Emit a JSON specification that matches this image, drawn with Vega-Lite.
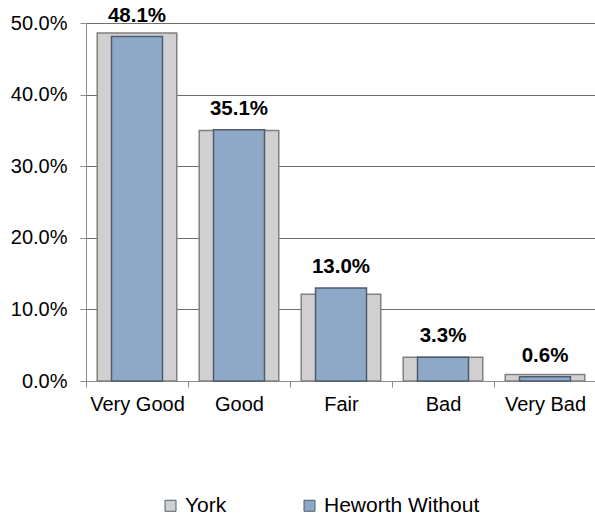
{
  "$schema": "https://vega.github.io/schema/vega-lite/v6.json",
  "width": 510,
  "height": 358,
  "autosize": "none",
  "padding": {"left": 86, "top": 23, "right": -1, "bottom": 137},
  "background": "white",
  "config": {
    "font": "Liberation Sans",
    "view": {"stroke": null},
    "axis": {"labelFont": "Liberation Sans", "labelFontSize": 20, "labelColor": "#000000", "domainColor": "#8c8c8c", "tickColor": "#8c8c8c", "tickSize": 6}
  },
  "data": {
    "values": [
      {"cat": "Very Good", "series": "York", "value": 0.486},
      {"cat": "Good", "series": "York", "value": 0.350},
      {"cat": "Fair", "series": "York", "value": 0.121},
      {"cat": "Bad", "series": "York", "value": 0.033},
      {"cat": "Very Bad", "series": "York", "value": 0.009},
      {"cat": "Very Good", "series": "Heworth Without", "value": 0.481},
      {"cat": "Good", "series": "Heworth Without", "value": 0.351},
      {"cat": "Fair", "series": "Heworth Without", "value": 0.130},
      {"cat": "Bad", "series": "Heworth Without", "value": 0.033},
      {"cat": "Very Bad", "series": "Heworth Without", "value": 0.006}
    ]
  },
  "encoding": {
    "x": {
      "field": "cat", "type": "nominal",
      "sort": ["Very Good", "Good", "Fair", "Bad", "Very Bad"],
      "scale": {"paddingInner": 0, "paddingOuter": 0},
      "axis": {"title": null, "labelAngle": 0, "tickBand": "extent", "labelPadding": 7}
    },
    "y": {
      "field": "value", "type": "quantitative",
      "scale": {"domain": [0, 0.5]},
      "axis": {"title": null, "format": ".1%", "values": [0, 0.1, 0.2, 0.3, 0.4, 0.5], "gridColor": "#6e6e6e", "gridWidth": 1, "labelPadding": 13}
    }
  },
  "layer": [
    {
      "transform": [{"filter": "datum.series === 'York'"}],
      "mark": {"type": "bar", "width": {"band": 0.78}, "stroke": "#808080", "strokeWidth": 1.5},
      "encoding": {
        "color": {
          "field": "series", "type": "nominal",
          "scale": {"domain": ["York", "Heworth Without"], "range": ["#d0d0d0", "#8ea9c8"]},
          "legend": {
            "title": null, "orient": "none", "direction": "horizontal",
            "legendX": 74, "legendY": 472,
            "symbolType": "square", "symbolSize": 121, "symbolStrokeColor": "#666666", "symbolStrokeWidth": 1,
            "labelFontSize": 21, "labelColor": "#000000", "labelOffset": 4, "columnPadding": 72, "padding": 0
          }
        }
      }
    },
    {
      "transform": [{"filter": "datum.series === 'Heworth Without'"}],
      "mark": {"type": "bar", "width": {"band": 0.5}, "stroke": "#4f5c6e", "strokeWidth": 1.5},
      "encoding": {
        "color": {"field": "series", "type": "nominal"}
      }
    },
    {
      "transform": [{"filter": "datum.series === 'Heworth Without'"}],
      "mark": {"type": "text", "fontWeight": "bold", "fontSize": 20.5, "baseline": "alphabetic", "dy": -15, "color": "#000000"},
      "encoding": {
        "text": {"field": "value", "type": "quantitative", "format": ".1%"}
      }
    }
  ]
}
